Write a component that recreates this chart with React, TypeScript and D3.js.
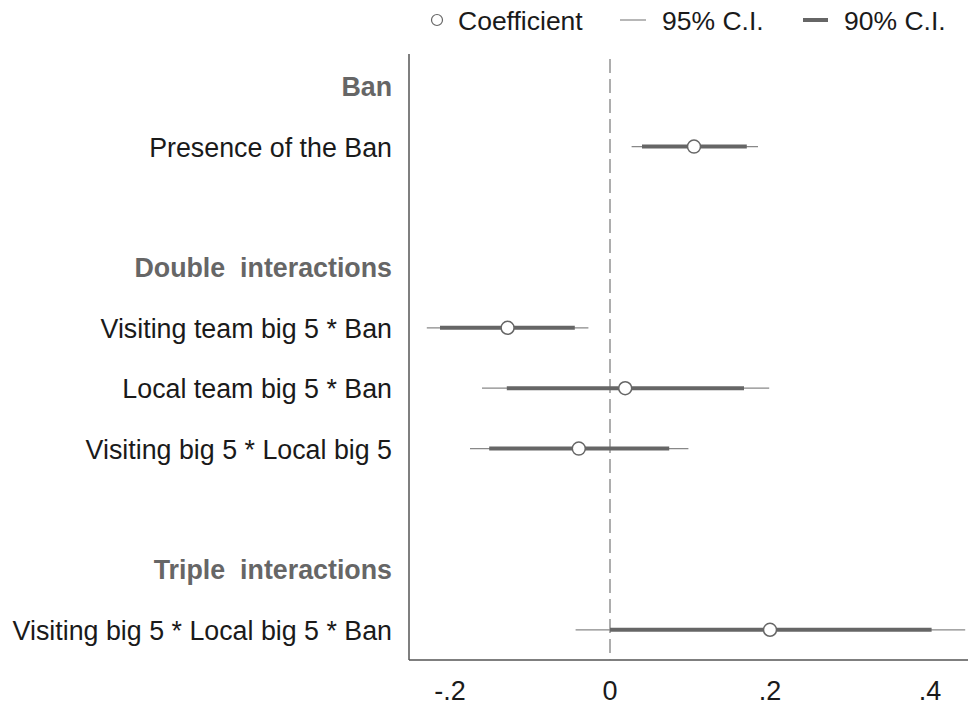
import * as d3 from 'd3';

// rows top to bottom; headers have no estimate
const rowLabels = [
  'Ban',
  'Presence of the Ban',
  '',
  'Double  interactions',
  'Visiting team big 5 * Ban',
  'Local team big 5 * Ban',
  'Visiting big 5 * Local big 5',
  '',
  'Triple  interactions',
  'Visiting big 5 * Local big 5 * Ban',
];
const headerRows = ['Ban', 'Double  interactions', 'Triple  interactions'];

const termNames = [
  'Presence of the Ban',
  'Visiting team big 5 * Ban',
  'Local team big 5 * Ban',
  'Visiting big 5 * Local big 5',
  'Visiting big 5 * Local big 5 * Ban',
];
const coefs = [0.105, -0.128, 0.019, -0.039, 0.2];
const lo95 = [0.027, -0.229, -0.16, -0.175, -0.043];
const hi95 = [0.185, -0.027, 0.199, 0.098, 0.444];
const lo90 = [0.04, -0.2125, -0.129, -0.151, 0.0];
const hi90 = [0.171, -0.044, 0.1675, 0.074, 0.402];

const xTicks = [-0.2, 0, 0.2, 0.4];

const W = 968, H = 708;
const plotLeft = 409, plotRight = 968, plotTop = 54, plotBottom = 660;

export default function App() {
  const x = d3.scaleLinear().domain([0, 0.2]).range([610, 770]);
  const y = d3.scalePoint<number>()
    .domain(d3.range(rowLabels.length))
    .range([plotTop + 2, plotBottom])
    .padding(0.5);

  // Stata style tick labels: -.2, 0, .2
  const fmt = (v: number) => (v === 0 ? '0' : v.toFixed(1).replace('0.', '.'));
  const font = '"Liberation Sans", Arial, Helvetica, sans-serif';

  return (
    <svg width={W} height={H} style={{ position: 'absolute', left: 0, top: 0, background: '#fff' }}
      fontFamily={font}>
      <rect width={W} height={H} fill="#fff" />

      {/* legend */}
      <g fontSize={26.5} fill="#1a1a1a">
        <circle cx={437} cy={20} r={5.5} fill="none" stroke="#666" strokeWidth={1.2} />
        <text x={458} y={21} dominantBaseline="central">Coefficient</text>
        <line x1={620} x2={646} y1={20} y2={20} stroke="#888" strokeWidth={1.2} />
        <text x={662} y={21} dominantBaseline="central">95% C.I.</text>
        <line x1={803} x2={828} y1={20} y2={20} stroke="#666" strokeWidth={4} />
        <text x={844} y={21} dominantBaseline="central">90% C.I.</text>
      </g>

      {/* axes */}
      <line x1={plotLeft} x2={plotLeft} y1={plotTop} y2={plotBottom} stroke="#555" strokeWidth={1.5} />
      <line x1={plotLeft} x2={plotRight} y1={plotBottom} y2={plotBottom} stroke="#555" strokeWidth={1.5} />
      <line x1={x(0)} x2={x(0)} y1={59} y2={plotBottom} stroke="#777" strokeWidth={1.2} strokeDasharray="14,6" />

      {xTicks.map(t => (
        <text key={t} x={x(t)} y={691} textAnchor="middle" dominantBaseline="central"
          fontSize={27} fill="#1a1a1a">{fmt(t)}</text>
      ))}

      {/* row labels */}
      {rowLabels.map((lab, i) => {
        if (!lab) return null;
        const isHeader = headerRows.includes(lab);
        return (
          <text key={i} x={392} y={(y(i) as number) + 1} textAnchor="end" dominantBaseline="central"
            fontSize={26.8} fontWeight={isHeader ? 'bold' : 'normal'}
            fill={isHeader ? '#666' : '#1a1a1a'} style={{ whiteSpace: 'pre' }}>{lab}</text>
        );
      })}

      {/* estimates */}
      {termNames.map((name, k) => {
        const cy = y(rowLabels.indexOf(name)) as number;
        return (
          <g key={name}>
            <line x1={x(lo95[k])} x2={x(hi95[k])} y1={cy} y2={cy} stroke="#888" strokeWidth={1.2} />
            <line x1={x(lo90[k])} x2={x(hi90[k])} y1={cy} y2={cy} stroke="#666" strokeWidth={4} />
            <circle cx={x(coefs[k])} cy={cy} r={6.5} fill="#fff" stroke="#666" strokeWidth={1.5} />
          </g>
        );
      })}
    </svg>
  );
}
